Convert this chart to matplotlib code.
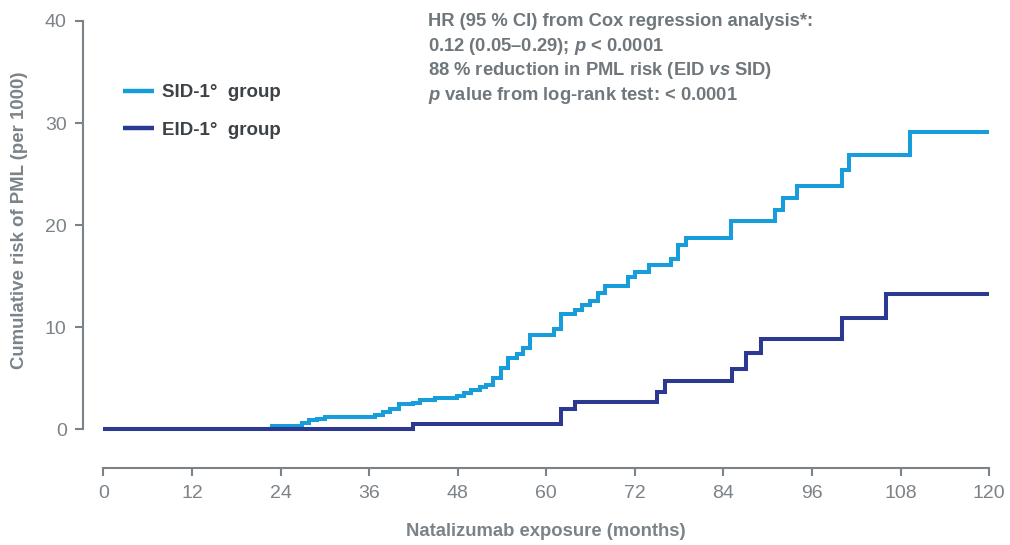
import matplotlib
matplotlib.use('Agg')
import matplotlib.pyplot as plt
from matplotlib import font_manager

# ---------------- data ----------------
months_sid = [0, 22.8, 26.9, 27.9, 28.9, 30.0, 36.8, 37.9, 38.8, 40.0, 42.0, 42.9, 44.9,
              47.9, 48.9, 49.8, 51.0, 51.9, 52.8, 53.8, 54.8, 56.0, 56.9, 57.8, 61.0,
              62.0, 63.9, 64.9, 65.9, 66.95, 67.9, 71.0, 72.0, 73.9, 76.9, 77.9, 78.9,
              85.0, 90.95, 92.0, 94.0, 100.1, 101.0, 109.2, 120]
risk_sid = [0, 0.35, 0.62, 0.88, 1.04, 1.23, 1.40, 1.72, 1.99, 2.44, 2.60, 2.87, 3.03,
            3.26, 3.52, 3.86, 4.10, 4.36, 5.05, 5.96, 6.94, 7.36, 7.92, 9.20, 9.85,
            11.34, 11.70, 12.16, 12.56, 13.36, 14.01, 14.93, 15.42, 16.07, 16.70, 18.03, 18.78,
            20.40, 21.45, 22.69, 23.86, 25.36, 26.90, 29.17, 29.17]

months_eid = [0, 42.0, 61.95, 63.9, 75.0, 76.1, 85.1, 87.05, 89.05, 100.1, 106.0, 120]
risk_eid = [0, 0.55, 1.95, 2.64, 3.65, 4.75, 5.90, 7.49, 8.83, 10.86, 13.26, 13.26]

x_ticks = [0, 12, 24, 36, 48, 60, 72, 84, 96, 108, 120]
y_ticks = [0, 10, 20, 30, 40]
series_labels = ['SID-1°  group', 'EID-1°  group']
x_title = 'Natalizumab exposure (months)'
y_title = 'Cumulative risk of PML (per 1000)'
annotation_lines = [
    'HR (95 % CI) from Cox regression analysis*:',
    '0.12 (0.05–0.29); $p$ < 0.0001',
    '88 % reduction in PML risk (EID $vs$ SID)',
    '$p$ value from log-rank test: < 0.0001',
]

# ---------------- style ----------------
SID_C = '#179dd9'
EID_C = '#2b3990'
AX_C = '#7b8388'
TXT_C = '#6f777c'
LEG_C = '#3d4247'

names = {f.name for f in font_manager.fontManager.ttflist}
narrow = 'Liberation Sans Narrow' if 'Liberation Sans Narrow' in names else 'Liberation Sans'

plt.rcParams['font.family'] = ['Liberation Sans', 'DejaVu Sans']
plt.rcParams['mathtext.fontset'] = 'custom'
plt.rcParams['mathtext.it'] = 'Liberation Sans:italic:bold'
plt.rcParams['mathtext.rm'] = 'Liberation Sans:bold'
plt.rcParams['mathtext.bf'] = 'Liberation Sans:bold'

W, H = 1010, 545
fig = plt.figure(figsize=(W / 100, H / 100), dpi=100)
ax = fig.add_axes([103.3 / W, 1 - 429.3 / H, (989.3 - 103.3) / W, (429.3 - 21) / H])

lw = 2.9
l1, = ax.step(months_sid, risk_sid, where='post', color=SID_C, lw=lw, clip_on=False,
              solid_capstyle='butt', solid_joinstyle='miter', zorder=3, label=series_labels[0])
l2, = ax.step(months_eid, risk_eid, where='post', color=EID_C, lw=lw, clip_on=False,
              solid_capstyle='butt', solid_joinstyle='miter', zorder=4, label=series_labels[1])

ax.set_xlim(0, 120)
ax.set_ylim(0, 40)
for s in ['top', 'right']:
    ax.spines[s].set_visible(False)
ax.spines['left'].set_position(('outward', 14.4))
ax.spines['bottom'].set_position(('outward', 28))
ax.spines['left'].set_bounds(0, 40)
ax.spines['bottom'].set_bounds(0, 120)
for s in ['left', 'bottom']:
    ax.spines[s].set_color(AX_C)
    ax.spines[s].set_linewidth(1.5)

ax.set_xticks(x_ticks)
ax.set_yticks(y_ticks)
ax.set_xticklabels([str(v) for v in x_ticks], family=narrow, fontsize=14, color=AX_C)
ax.set_yticklabels([str(v) for v in y_ticks], family=narrow, fontsize=14, color=AX_C)
ax.tick_params(axis='both', colors=AX_C, length=6, width=1.5)
ax.tick_params(axis='x', pad=6)
ax.tick_params(axis='y', pad=6)

fig.text(546 / W, 1 - 532 / H, x_title, ha='center', va='center', fontsize=13.3,
         fontweight='bold', color=AX_C)
fig.text(20 / W, 1 - 220 / H, y_title, ha='center', va='center', rotation=90,
         fontsize=13.4, fontweight='bold', color=AX_C)

for i, line in enumerate(annotation_lines):
    fig.text(428 / W, 1 - (26 + 24.6 * i) / H, line, ha='left', va='baseline',
             fontsize=13.2, fontweight='bold', color=TXT_C)

leg = ax.legend(handles=[l1, l2], loc='upper left',
                bbox_to_anchor=(123 / W, 1 - 84 / H), bbox_transform=fig.transFigure,
                frameon=False, handlelength=1.65, handletextpad=0.45, labelspacing=1.1,
                borderaxespad=0, borderpad=0,
                prop={'family': 'Liberation Sans', 'weight': 'bold', 'size': 13.5})
for t in leg.get_texts():
    t.set_color(LEG_C)
for h in leg.get_lines():
    h.set_linewidth(3.2)

fig.savefig('out.png', dpi=100)
